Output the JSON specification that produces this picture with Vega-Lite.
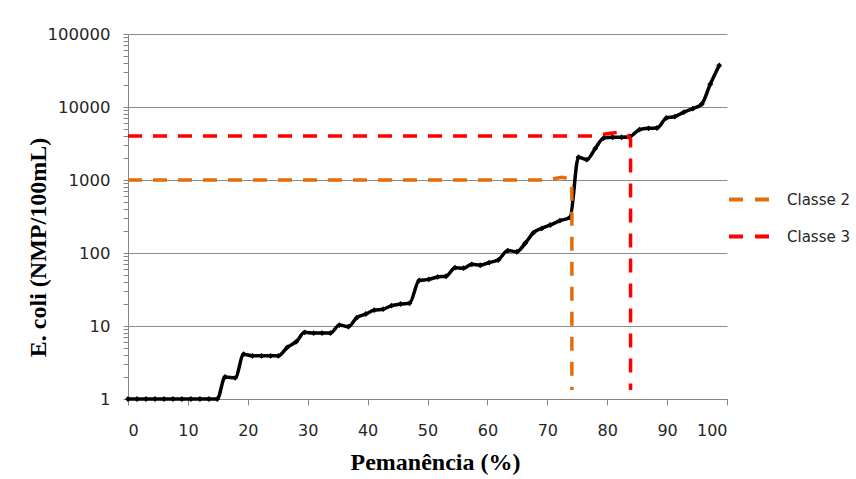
{
  "$schema": "https://vega.github.io/schema/vega-lite/v6.json",
  "width": 599,
  "height": 365,
  "autosize": {"type": "none"},
  "padding": {"left": 128, "top": 34, "right": 129, "bottom": 80},
  "background": "white",
  "config": {
    "view": {"stroke": null},
    "font": "DejaVu Sans"
  },
  "datasets": {
    "main": [
      {"i": 0, "p": 0, "v": 1}, {"i": 1, "p": 1.5, "v": 1}, {"i": 2, "p": 3, "v": 1}, {"i": 3, "p": 4.5, "v": 1},
      {"i": 4, "p": 6, "v": 1}, {"i": 5, "p": 7.5, "v": 1}, {"i": 6, "p": 9, "v": 1}, {"i": 7, "p": 10.5, "v": 1},
      {"i": 8, "p": 12, "v": 1}, {"i": 9, "p": 13.5, "v": 1}, {"i": 10, "p": 14.9, "v": 1},
      {"i": 11, "p": 16.2, "v": 2}, {"i": 12, "p": 17.9, "v": 1.95}, {"i": 13, "p": 19.3, "v": 4.1},
      {"i": 14, "p": 20.8, "v": 3.9}, {"i": 15, "p": 22.3, "v": 3.9}, {"i": 16, "p": 23.8, "v": 3.9},
      {"i": 17, "p": 25.1, "v": 3.9}, {"i": 18, "p": 26.6, "v": 5.1}, {"i": 19, "p": 28.1, "v": 6.1},
      {"i": 20, "p": 29.5, "v": 8.2}, {"i": 21, "p": 31, "v": 8}, {"i": 22, "p": 32.4, "v": 8},
      {"i": 23, "p": 33.8, "v": 8}, {"i": 24, "p": 35.3, "v": 10.3}, {"i": 25, "p": 36.8, "v": 9.8},
      {"i": 26, "p": 38.2, "v": 13}, {"i": 27, "p": 39.7, "v": 14.6}, {"i": 28, "p": 41.1, "v": 16.5},
      {"i": 29, "p": 42.6, "v": 17}, {"i": 30, "p": 44, "v": 19}, {"i": 31, "p": 45.5, "v": 20},
      {"i": 32, "p": 47, "v": 20.5}, {"i": 33, "p": 48.6, "v": 42}, {"i": 34, "p": 50.2, "v": 43.5},
      {"i": 35, "p": 51.7, "v": 47}, {"i": 36, "p": 53.1, "v": 48}, {"i": 37, "p": 54.6, "v": 63},
      {"i": 38, "p": 56, "v": 62}, {"i": 39, "p": 57.4, "v": 70}, {"i": 40, "p": 58.8, "v": 68},
      {"i": 41, "p": 60.3, "v": 74}, {"i": 42, "p": 61.8, "v": 80}, {"i": 43, "p": 63.4, "v": 108},
      {"i": 44, "p": 64.9, "v": 104}, {"i": 45, "p": 66.3, "v": 136}, {"i": 46, "p": 67.7, "v": 190},
      {"i": 47, "p": 69.1, "v": 218}, {"i": 48, "p": 70.5, "v": 242}, {"i": 49, "p": 72.1, "v": 277},
      {"i": 50, "p": 73.8, "v": 308}, {"i": 51, "p": 75.2, "v": 2050}, {"i": 52, "p": 76.6, "v": 1900},
      {"i": 53, "p": 78, "v": 2700}, {"i": 54, "p": 79.4, "v": 3750}, {"i": 55, "p": 80.9, "v": 3850},
      {"i": 56, "p": 82.4, "v": 3850}, {"i": 57, "p": 83.8, "v": 3950}, {"i": 58, "p": 85.4, "v": 4900},
      {"i": 59, "p": 86.9, "v": 5100}, {"i": 60, "p": 88.3, "v": 5150}, {"i": 61, "p": 89.9, "v": 7100},
      {"i": 62, "p": 91.3, "v": 7400}, {"i": 63, "p": 92.8, "v": 8500}, {"i": 64, "p": 94.3, "v": 9500},
      {"i": 65, "p": 95.8, "v": 11000}, {"i": 66, "p": 97.2, "v": 20500}, {"i": 67, "p": 98.7, "v": 37000}
    ],
    "classes": [
      {"serie": "Classe 2", "i": 0, "p": 0, "v": 1000},
      {"serie": "Classe 2", "i": 1, "p": 69.5, "v": 1000},
      {"serie": "Classe 2", "i": 2, "p": 71.2, "v": 1050},
      {"serie": "Classe 2", "i": 3, "p": 72.5, "v": 1090},
      {"serie": "Classe 2", "i": 4, "p": 73.6, "v": 1040},
      {"serie": "Classe 2", "i": 5, "p": 74.1, "v": 880},
      {"serie": "Classe 2", "i": 6, "p": 74.1, "v": 1.33},
      {"serie": "Classe 3", "i": 0, "p": 0, "v": 4000},
      {"serie": "Classe 3", "i": 1, "p": 78, "v": 4000},
      {"serie": "Classe 3", "i": 2, "p": 80, "v": 4300},
      {"serie": "Classe 3", "i": 3, "p": 82, "v": 4500},
      {"serie": "Classe 3", "i": 4, "p": 83.3, "v": 4250},
      {"serie": "Classe 3", "i": 5, "p": 83.9, "v": 3600},
      {"serie": "Classe 3", "i": 6, "p": 83.9, "v": 1.33}
    ]
  },
  "encoding": {
    "x": {
      "field": "p", "type": "quantitative",
      "scale": {"domain": [0, 100], "nice": false},
      "axis": {
        "title": "Pemanência (%)",
        "values": [0, 10, 20, 30, 40, 50, 60, 70, 80, 90, 100],
        "grid": false,
        "domainColor": "#868686", "domainWidth": 1,
        "tickColor": "#868686", "tickSize": 6,
        "labelFont": "DejaVu Sans", "labelFontSize": 16, "labelColor": "#262626",
        "labelPadding": 17,
        "titleFont": "Liberation Serif", "titleFontWeight": "bold", "titleFontSize": 24, "titleColor": "#000000",
        "titleBaseline": "alphabetic", "titleX": 307, "titleY": 70
      }
    },
    "y": {
      "field": "v", "type": "quantitative",
      "scale": {"type": "log", "domain": [1, 100000], "nice": false},
      "axis": {
        "title": "E. coli (NMP/100mL)",
        "values": [1, 2, 3, 4, 5, 6, 7, 8, 9, 10, 20, 30, 40, 50, 60, 70, 80, 90, 100, 200, 300, 400, 500, 600, 700, 800, 900, 1000, 2000, 3000, 4000, 5000, 6000, 7000, 8000, 9000, 10000, 20000, 30000, 40000, 50000, 60000, 70000, 80000, 90000, 100000],
        "labelExpr": "indexof([1,10,100,1000,10000,100000], datum.value) >= 0 ? format(datum.value, 'd') : ''",
        "grid": true,
        "gridColor": "#8c8c8c",
        "gridOpacity": {"condition": {"test": "indexof([1,10,100,1000,10000,100000], datum.value) < 0", "value": 0}, "value": 1},
        "domainColor": "#868686", "domainWidth": 1,
        "tickColor": "#868686", "tickSize": 5,
        "labelFont": "DejaVu Sans", "labelFontSize": 16.5, "labelColor": "#262626",
        "labelPadding": 13,
        "titleFont": "Liberation Serif", "titleFontWeight": "bold", "titleFontSize": 24, "titleColor": "#000000",
        "titleAngle": -90, "titleBaseline": "bottom", "titleX": -78, "titleY": 213
      }
    }
  },
  "layer": [
    {
      "data": {"name": "main"},
      "mark": {
        "type": "line", "color": "#000000", "strokeWidth": 3.5, "interpolate": "monotone",
        "point": {"filled": true, "shape": "diamond", "size": 34, "color": "#000000"}
      },
      "encoding": {"order": {"field": "i", "type": "quantitative"}}
    },
    {
      "data": {"name": "classes"},
      "mark": {"type": "line", "strokeWidth": 3.5, "strokeDash": [14, 11]},
      "encoding": {
        "order": {"field": "i", "type": "quantitative"},
        "color": {
          "field": "serie", "type": "nominal",
          "scale": {"domain": ["Classe 2", "Classe 3"], "range": ["#E46C0A", "#FF0000"]},
          "legend": {
            "title": null,
            "orient": "none",
            "legendX": 599,
            "legendY": 142,
            "symbolType": "stroke",
            "symbolStrokeWidth": 4,
            "symbolDash": [14, 12],
            "symbolSize": 1849,
            "labelFont": "DejaVu Sans",
            "labelFontSize": 15,
            "labelColor": "#262626",
            "labelOffset": 13,
            "rowPadding": 5
          }
        }
      }
    }
  ]
}
